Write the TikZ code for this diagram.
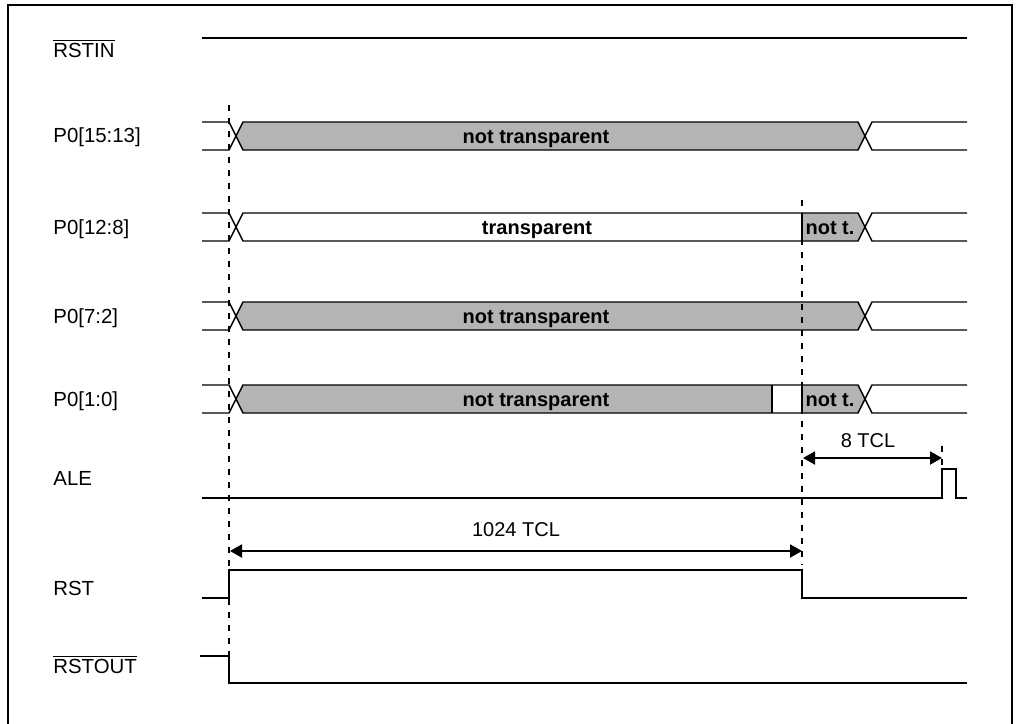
\documentclass[tikz,border=0pt]{standalone}
\usepackage{fontspec}
\setmainfont{Liberation Sans}
\usetikzlibrary{arrows.meta}
\definecolor{busgray}{RGB}{180,180,180}
\tikzset{
  wave/.style={draw=black, line width=1pt},
  busline/.style={draw=black, line width=0.7pt},
  busedge/.style={draw=black, line width=1pt},
  busfill/.style={fill=busgray},
  guide/.style={draw=black, line width=1pt, dash pattern=on 3pt off 3.5pt},
  dimarrow/.style={draw=black, line width=1pt,
    {Triangle[length=6pt,width=6.5pt]}-{Triangle[length=6pt,width=6.5pt]}},
  lbl/.style={font=\fontsize{10.2}{12}\selectfont, inner sep=0pt, anchor=base west},
  buslbl/.style={font=\fontsize{10}{12}\selectfont\bfseries, inner sep=0pt, anchor=base},
  dimlbl/.style={font=\fontsize{10}{12}\selectfont, inner sep=0pt, anchor=base},
  frame/.style={draw=black, line width=1pt},
}
\newcommand{\ovl}[1]{$\overline{\hbox{#1}}$}
% bus outline: stub, crossing at start, crossing at end, tail
\newcommand{\BusFrame}{%
  \draw[busline] (202,-14) -- (229,-14) -- (243,14) -- (858,14) -- (872,-14) -- (967,-14);
  \draw[busline] (202,14) -- (229,14) -- (243,-14) -- (858,-14) -- (872,14) -- (967,14);
}
% grey short piece before the end crossing
\newcommand{\NotT}[1]{%
  \fill[busfill] (802,-14) -- (858,-14) -- (865,0) -- (858,14) -- (802,14) -- cycle;
  \node[buslbl] (#1) at (830,7) {not t.};
}

\begin{document}
\begin{tikzpicture}[x=0.5pt, y=-0.5pt]
  \useasboundingbox (0,0) rectangle (1016,723);
  \draw[frame] (8,730) -- (8,5) -- (1012,5) -- (1012,730);

  % signal names
  \node[lbl] (lRSTIN) at (53,57) {\ovl{RSTIN}};
  \node[lbl] (lP1513) at (53,142) {P0[15:13]};
  \node[lbl] (lP128) at (53,234) {P0[12:8]};
  \node[lbl] (lP72) at (53,323) {P0[7:2]};
  \node[lbl] (lP10) at (53,406) {P0[1:0]};
  \node[lbl] (lALE) at (53,485) {ALE};
  \node[lbl] (lRST) at (53,595) {RST};
  \node[lbl] (lRSTOUT) at (53,673) {\ovl{RSTOUT}};

  % RSTIN
  \draw[wave] (202,38) -- (967,38);

  % P0[15:13]
  \begin{scope}[shift={(0,136)}]
    \fill[busfill] (236,0) -- (243,-14) -- (858,-14) -- (865,0) -- (858,14) -- (243,14) -- cycle;
    \BusFrame
    \node[buslbl] (b1) at (536,7) {not transparent};
  \end{scope}

  % P0[12:8]
  \begin{scope}[shift={(0,227)}]
    \NotT{b2n}
    \BusFrame
    \draw[busedge] (802,-14) -- (802,14);
    \node[buslbl] (b2) at (537,7) {transparent};
  \end{scope}

  % P0[7:2]
  \begin{scope}[shift={(0,316)}]
    \fill[busfill] (236,0) -- (243,-14) -- (858,-14) -- (865,0) -- (858,14) -- (243,14) -- cycle;
    \BusFrame
    \node[buslbl] (b3) at (536,7) {not transparent};
  \end{scope}

  % P0[1:0]
  \begin{scope}[shift={(0,399)}]
    \fill[busfill] (236,0) -- (243,-14) -- (772,-14) -- (772,14) -- (243,14) -- cycle;
    \NotT{b4n}
    \BusFrame
    \draw[busedge] (772,-14) -- (772,14) (802,-14) -- (802,14);
    \node[buslbl] (b4) at (536,7) {not transparent};
  \end{scope}

  % ALE
  \draw[wave] (202,498) -- (942,498) -- (942,469) -- (956,469) -- (956,498) -- (967,498);

  % RST
  \draw[wave] (202,598) -- (229,598) -- (229,570) -- (802,570) -- (802,598) -- (967,598);

  % RSTOUT
  \draw[wave] (200,656) -- (229,656) -- (229,683) -- (967,683);

  % timing guides
  \draw[guide] (229,105) -- (229,656);
  \draw[guide] (802,200) -- (802,565);
  \draw[guide] (942,446) -- (942,468);

  \coordinate (aleA) at (803,458);
  \coordinate (aleB) at (942,458);
  \draw[dimarrow] (aleA) -- (aleB);
  \node[dimlbl] (d8) at (868,447) {8 TCL};

  \coordinate (rstA) at (230,551);
  \coordinate (rstB) at (802,551);
  \draw[dimarrow] (rstA) -- (rstB);
  \node[dimlbl] (d1024) at (516,536) {1024 TCL};
\end{tikzpicture}
\end{document}
